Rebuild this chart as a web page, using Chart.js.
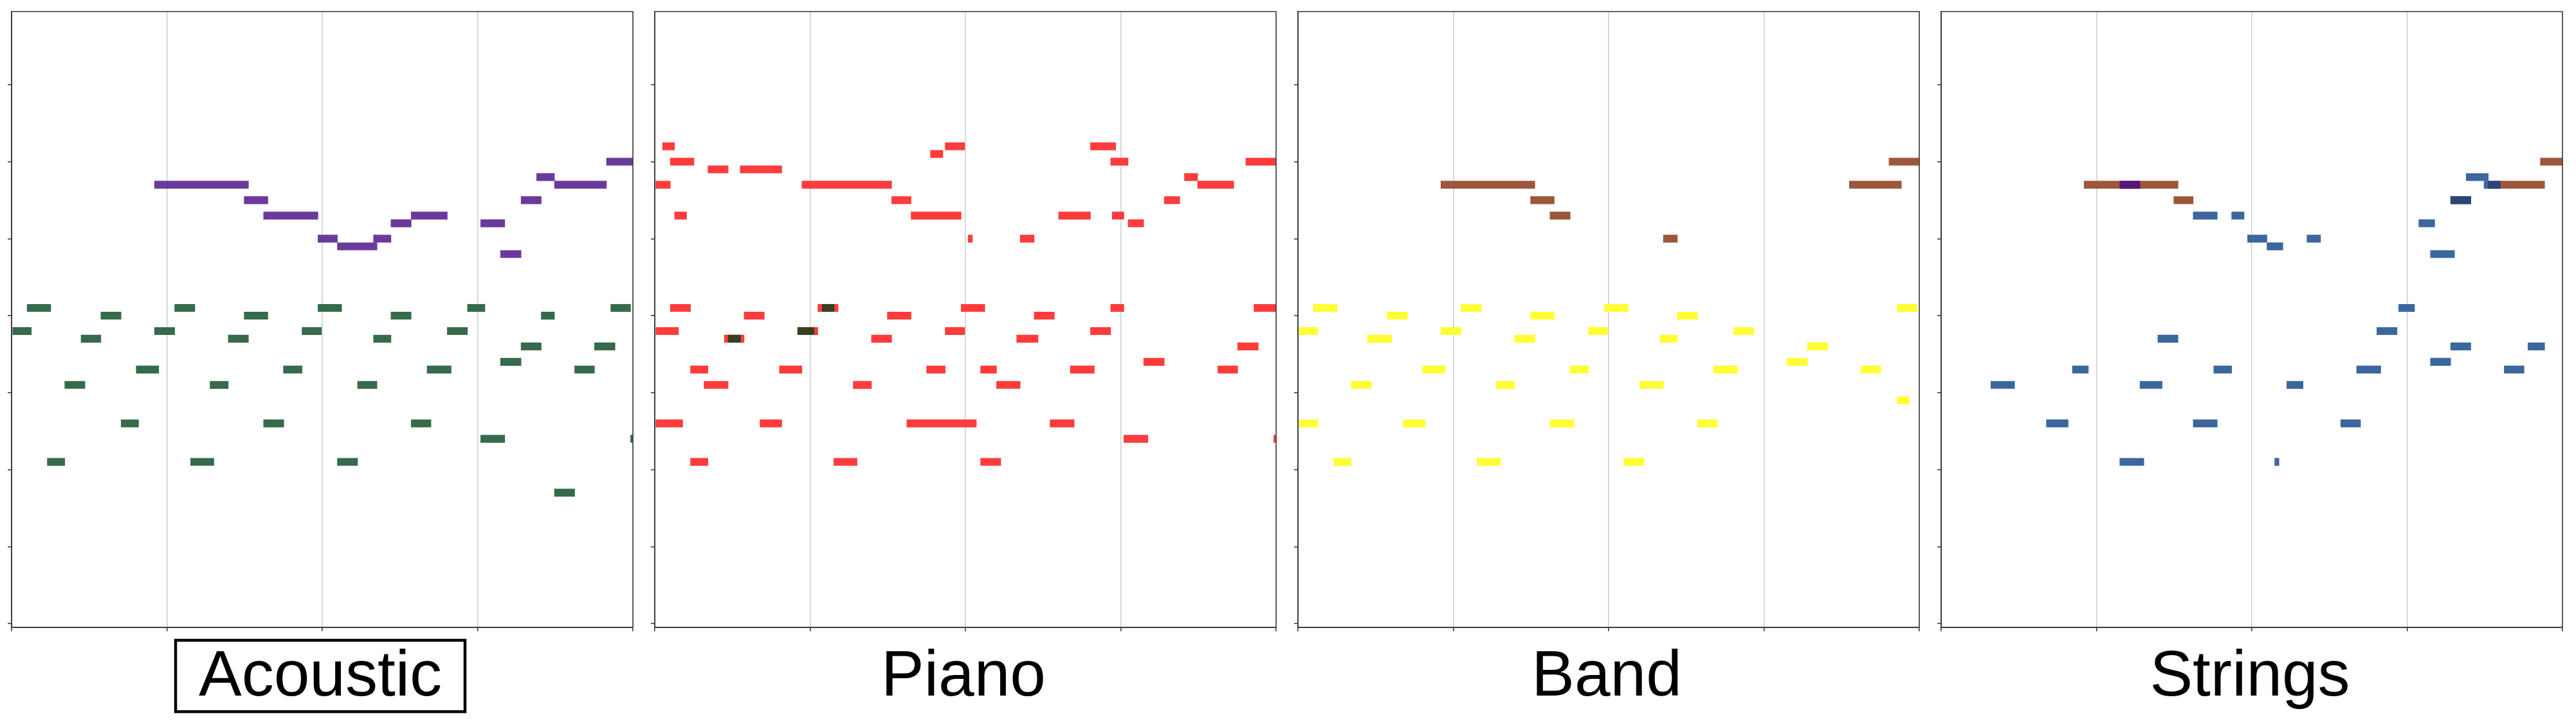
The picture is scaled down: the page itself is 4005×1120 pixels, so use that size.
<!DOCTYPE html>
<html>
<head>
<meta charset="utf-8">
<script src="https://cdn.jsdelivr.net/npm/chart.js@4.4.1/dist/chart.umd.min.js"></script>
<style>
  html, body { margin: 0; padding: 0; background: #fff; }
  #wrap { position: relative; width: 4005px; height: 1120px; }
  canvas { position: absolute; top: 0; }
</style>
</head>
<body>
<div id="wrap">
  <canvas id="c0" width="1000" height="1120" style="left:0px"></canvas>
  <canvas id="c1" width="1000" height="1120" style="left:1000px"></canvas>
  <canvas id="c2" width="1000" height="1120" style="left:2000px"></canvas>
  <canvas id="c3" width="1005" height="1120" style="left:3000px"></canvas>
</div>
<script>
// notes are [start beat, end beat, pitch]
const panelTitles = ['Acoustic', 'Piano', 'Band', 'Strings'];
const pitchTicks = [20, 30, 40, 50, 60, 70, 80, 90];
const beatTicks = [0, 4, 8, 12, 16];

const acousticMelody = [
    [15.32, 16, 80], [13.52, 13.98, 78], [3.68, 6.10, 77], [13.98, 15.32, 77],
    [5.99, 6.60, 75], [13.12, 13.64, 75], [6.49, 7.89, 73], [10.29, 11.22, 73],
    [9.77, 10.29, 72], [12.08, 12.70, 72], [7.89, 8.39, 70], [9.32, 9.77, 70],
    [8.39, 9.41, 69], [12.59, 13.12, 68]
];
const acousticAccomp = [
    [0.40, 1.01, 61], [4.20, 4.72, 61], [7.89, 8.50, 61], [11.74, 12.19, 61], [15.43, 15.94, 61],
    [2.30, 2.82, 60], [5.99, 6.60, 60], [9.77, 10.29, 60], [13.64, 13.98, 60],
    [0.03, 0.51, 58], [3.68, 4.20, 58], [7.48, 7.98, 58], [11.22, 11.74, 58],
    [1.79, 2.30, 57], [5.58, 6.10, 57], [9.32, 9.77, 57],
    [13.12, 13.64, 56], [15.01, 15.54, 56],
    [12.59, 13.12, 54],
    [3.21, 3.79, 53], [7.00, 7.48, 53], [10.70, 11.32, 53], [14.50, 15.01, 53],
    [1.37, 1.89, 51], [5.11, 5.58, 51], [8.91, 9.41, 51],
    [2.82, 3.27, 46], [6.49, 7.01, 46], [10.29, 10.80, 46],
    [12.08, 12.70, 44], [15.94, 16, 44],
    [0.92, 1.37, 41], [4.61, 5.21, 41], [8.39, 8.91, 41],
    [13.98, 14.50, 37]
];

const pianoNotes = [
    [0.20, 0.51, 82], [7.48, 7.98, 82], [11.22, 11.87, 82],
    [7.10, 7.42, 81],
    [0.40, 1.01, 80], [11.74, 12.19, 80], [15.22, 16, 80],
    [1.37, 1.89, 79], [2.20, 3.27, 79],
    [13.64, 13.98, 78],
    [0.03, 0.40, 77], [3.79, 6.10, 77], [13.98, 14.91, 77],
    [6.10, 6.60, 75], [13.12, 13.52, 75],
    [0.51, 0.82, 73], [6.60, 7.89, 73], [10.40, 11.22, 73], [11.78, 12.08, 73],
    [12.19, 12.59, 72],
    [8.07, 8.18, 70], [9.41, 9.77, 70],
    [0.40, 0.92, 61], [4.20, 4.72, 61], [7.89, 8.50, 61], [11.74, 12.08, 61], [15.43, 16, 61],
    [2.30, 2.82, 60], [5.99, 6.60, 60], [9.77, 10.29, 60],
    [0.03, 0.61, 58], [3.68, 4.20, 58], [7.48, 7.98, 58], [11.22, 11.74, 58],
    [1.79, 2.30, 57], [5.58, 6.10, 57], [9.32, 9.87, 57],
    [15.01, 15.54, 56],
    [12.59, 13.12, 54],
    [0.92, 1.37, 53], [3.21, 3.79, 53], [7.00, 7.48, 53], [8.39, 8.80, 53], [10.70, 11.32, 53], [14.50, 15.01, 53],
    [1.27, 1.89, 51], [5.11, 5.58, 51], [8.80, 9.41, 51],
    [0.03, 0.72, 46], [2.71, 3.27, 46], [6.49, 8.28, 46], [10.18, 10.80, 46],
    [12.08, 12.70, 44], [15.94, 16, 44],
    [0.92, 1.37, 41], [4.61, 5.21, 41], [8.39, 8.91, 41]
];
const pianoOverlap = [[1.89, 2.21, 57], [3.68, 4.10, 58], [4.31, 4.62, 61]];

const bandMelody = [
    [15.22, 16, 80], [3.68, 6.10, 77], [14.20, 15.54, 77],
    [5.99, 6.60, 75], [6.49, 7.01, 73], [9.41, 9.77, 70]
];
const bandAccomp = [
    [0.40, 1.01, 61], [4.20, 4.72, 61], [7.89, 8.50, 61], [15.43, 15.94, 61],
    [2.30, 2.82, 60], [5.99, 6.60, 60], [9.77, 10.29, 60],
    [0.03, 0.51, 58], [3.68, 4.20, 58], [7.48, 7.98, 58], [11.22, 11.74, 58],
    [1.79, 2.41, 57], [5.58, 6.10, 57], [9.32, 9.77, 57],
    [13.12, 13.64, 56],
    [12.59, 13.12, 54],
    [3.21, 3.79, 53], [7.00, 7.48, 53], [10.70, 11.32, 53], [14.50, 15.01, 53],
    [1.37, 1.89, 51], [5.11, 5.58, 51], [8.80, 9.41, 51],
    [15.43, 15.74, 49],
    [0.03, 0.51, 46], [2.71, 3.27, 46], [6.49, 7.11, 46], [10.29, 10.80, 46],
    [0.92, 1.37, 41], [4.61, 5.21, 41], [8.39, 8.91, 41]
];

const stringsMelody = [
    [15.43, 16, 80], [3.68, 6.10, 77], [14.40, 15.54, 77], [5.99, 6.49, 75]
];
const stringsAccomp = [
    [13.52, 14.09, 78],
    [13.98, 14.40, 77],
    [13.12, 13.64, 75],
    [6.49, 7.11, 73], [7.48, 7.80, 73],
    [12.30, 12.71, 72],
    [7.89, 8.39, 70], [9.42, 9.77, 70],
    [8.39, 8.80, 69],
    [12.60, 13.22, 68],
    [11.78, 12.19, 61],
    [11.22, 11.74, 58],
    [5.58, 6.10, 57],
    [13.12, 13.64, 56], [15.11, 15.54, 56],
    [12.60, 13.12, 54],
    [3.38, 3.79, 53], [7.02, 7.48, 53], [10.70, 11.32, 53], [14.50, 15.01, 53],
    [1.28, 1.89, 51], [5.12, 5.69, 51], [8.90, 9.32, 51],
    [2.71, 3.27, 46], [6.49, 7.11, 46], [10.29, 10.80, 46],
    [4.60, 5.22, 41], [8.59, 8.70, 41]
];
const stringsMixOverlap = [[4.60, 5.12, 77]];
const stringsSelfOverlap = [[14.09, 14.40, 77], [13.12, 13.64, 75]];

function toPoints(notes) {
    return notes.map(n => ({ x: [n[0], n[1]], y: n[2] }));
}

function layer(notes, color) {
    return {
        data: toPoints(notes),
        backgroundColor: color,
        borderWidth: 0,
        barThickness: 11.5,
        grouped: false
    };
}

// first dataset is drawn on top
const panelLayers = [
    [layer(acousticMelody, '#6a3a9b'), layer(acousticAccomp, '#356b4b')],
    [layer(pianoOverlap, '#373f20'), layer(pianoNotes, '#ff3b3b')],
    [layer(bandMelody, '#9c573a'), layer(bandAccomp, '#ffff33')],
    [layer(stringsMixOverlap, '#56177a'), layer(stringsSelfOverlap, '#2a4474'),
     layer(stringsMelody, '#9c573a'), layer(stringsAccomp, '#3b679e')]
];

const frame = {
    id: 'frame',
    afterDraw(chart) {
        const a = chart.chartArea;
        const ctx = chart.ctx;
        ctx.save();
        ctx.strokeStyle = '#333';
        ctx.lineWidth = 1.5;
        ctx.strokeRect(a.left, a.top, a.right - a.left, a.bottom - a.top);
        ctx.restore();
    }
};

const titleBox = {
    id: 'titleBox',
    afterDraw(chart) {
        const t = chart.titleBlock;
        const ctx = chart.ctx;
        ctx.save();
        ctx.font = '100px "Liberation Sans", Arial, sans-serif';
        const w = ctx.measureText(chart.options.plugins.title.text).width;
        const cx = (t.left + t.right) / 2;
        ctx.strokeStyle = '#000';
        ctx.lineWidth = 4.5;
        ctx.strokeRect(cx - w / 2 - 36, 996, w + 72, 111);
        ctx.restore();
    }
};

panelLayers.forEach(function (datasets, i) {
    const ctx = document.getElementById('c' + i).getContext('2d');
    new Chart(ctx, {
        type: 'bar',
        data: { datasets: datasets },
        options: {
            indexAxis: 'y',
            responsive: false,
            animation: false,
            devicePixelRatio: 1,
            layout: { padding: { left: 12, top: 18, right: i === 3 ? 21 : 16, bottom: 6 } },
            scales: {
                x: {
                    type: 'linear',
                    min: 0,
                    max: 16,
                    z: 1,
                    afterBuildTicks: s => { s.ticks = beatTicks.map(v => ({ value: v })); },
                    ticks: { display: false },
                    grid: { color: '#cccccc', lineWidth: 1.5, tickColor: '#333', tickLength: 6 },
                    border: { color: '#333', width: 1.5 }
                },
                y: {
                    type: 'linear',
                    min: 19.5,
                    max: 99.5,
                    offset: false,
                    afterBuildTicks: s => { s.ticks = pitchTicks.map(v => ({ value: v })); },
                    ticks: { display: false },
                    grid: { offset: false, drawOnChartArea: false, tickColor: '#333', lineWidth: 1.5, tickLength: 6 },
                    border: { color: '#333', width: 1.5 }
                }
            },
            plugins: {
                legend: { display: false },
                tooltip: { enabled: false },
                title: {
                    display: true,
                    position: 'bottom',
                    text: panelTitles[i],
                    color: '#000',
                    font: { family: '"Liberation Sans", Arial, sans-serif', size: 100, weight: 'normal', lineHeight: 1.2 },
                    padding: { top: 12, bottom: 0 }
                }
            }
        },
        plugins: i === 0 ? [frame, titleBox] : [frame]
    });
});
</script>
</body>
</html>
